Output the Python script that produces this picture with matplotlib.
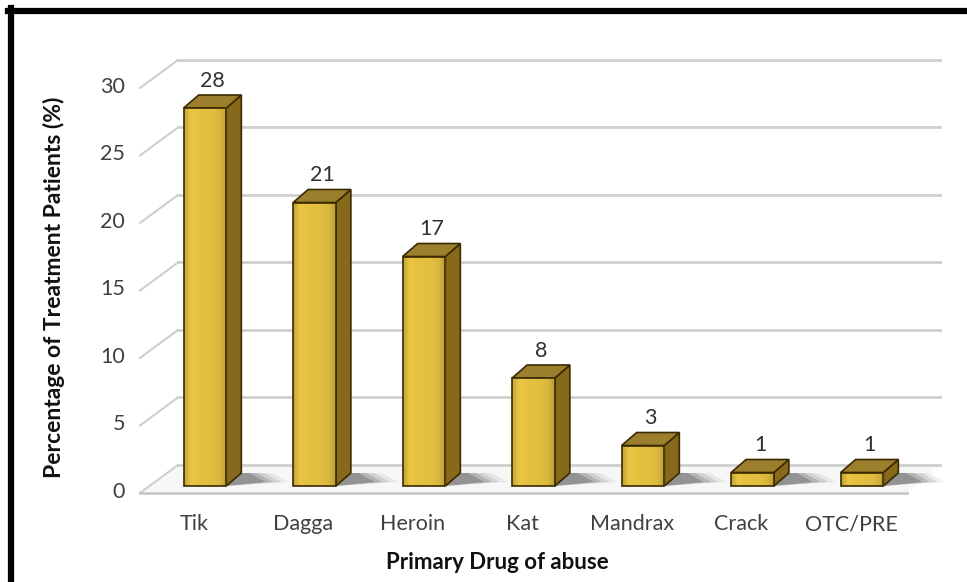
# 3-D style bar chart: primary drug of abuse among treatment patients

import numpy as np
import matplotlib
matplotlib.use("Agg")
import matplotlib.pyplot as plt
from matplotlib.patches import Polygon, Rectangle
from matplotlib.lines import Line2D

drugs = ["Tik", "Dagga", "Heroin", "Kat", "Mandrax", "Crack", "OTC/PRE"]
percent = [28, 21, 17, 8, 3, 1, 1]
y_ticks = [0, 5, 10, 15, 20, 25, 30]

plt.rcParams['font.family'] = ['Lato', 'DejaVu Sans']

fig = plt.figure(figsize=(9.67, 5.82), dpi=100)
ax = fig.add_axes([0, 0, 1, 1])
# one category slot = 109.5 px, one percent = 13.5 px
ax.set_xlim(-1.872, 6.959)
ax.set_ylim(-7.111, 36.0)
ax.axis("off")

w = 0.39                     # bar width
ddx, ddy = 0.137, 0.963      # bar depth
bx, by = 0.26, 1.556         # back wall offset
fx, fy = -0.087, -0.519      # floor front offset
wall_left, wall_right = -0.247, 6.71
floor_left, floor_right = -0.594, 6.41

# floor
floor = Polygon([(floor_left, fy), (floor_right, fy), (wall_right, by), (wall_left, by)],
                closed=True, facecolor="#f7f7f7", edgecolor="none", zorder=1)
ax.add_patch(floor)
ax.plot([floor_left, floor_right], [fy, fy], color="#c8c8c8", lw=2, zorder=1.5)

# back wall gridlines and side ticks
for t in y_ticks:
    ax.plot([wall_left, wall_right], [t + by, t + by], color="#cfcfcf", lw=2, zorder=1.2)
    ax.plot([floor_left, wall_left], [t + fy, t + by], color="#cfcfcf", lw=1.5, zorder=1.2)
    ax.text(-0.73, t + fy + 0.1, str(t), ha="right", va="center",
            fontsize=15.5, color="#404040")

# gradient for the front faces
grad = np.array([0.82, 1.0, 0.97, 0.96, 0.95, 0.95, 0.94, 0.93, 0.9, 0.8])
front_rgb = np.array([240, 202, 68]) / 255.0
img = np.clip(grad[None, :, None] * front_rgb[None, None, :], 0, 1)

for i, v in enumerate(percent):
    x0, x1 = i - w / 2, i + w / 2
    # shadow on floor
    for k, a in enumerate([0.22, 0.16, 0.11, 0.07]):
        s = 0.07 * (k + 1)
        sh = Polygon([(x1, 0.0), (x1 + ddx + s + 0.15, 0.3), (x1 + ddx + s, ddy),
                      (x1 + ddx, ddy)], closed=True, facecolor="#202020",
                     edgecolor="none", alpha=a, zorder=2)
        ax.add_patch(sh)
    side = Polygon([(x1, 0), (x1 + ddx, ddy), (x1 + ddx, v + ddy), (x1, v)], closed=True,
                   facecolor="#87691c", edgecolor="#3a2a00", lw=1.2, zorder=3)
    top = Polygon([(x0, v), (x0 + ddx, v + ddy), (x1 + ddx, v + ddy), (x1, v)], closed=True,
                  facecolor="#9c7f2c", edgecolor="#3a2a00", lw=1.2, zorder=3)
    ax.add_patch(side)
    ax.add_patch(top)
    front = Rectangle((x0, 0), w, v, facecolor="none", edgecolor="#3a2a00", lw=1.2, zorder=5)
    ax.add_patch(front)
    im = ax.imshow(img, extent=(x0, x1, 0, v), aspect="auto", zorder=4,
                   interpolation="bicubic")
    im.set_clip_path(front)
    ax.text(i + ddx / 2, v + ddy + 0.3, str(v), ha="center", va="bottom",
            fontsize=15.5, color="#303030")
    ax.text(i - 0.1, -2.85, drugs[i], ha="center", va="center",
            fontsize=15.5, color="#404040")

ax.set_xlim(-1.872, 6.959)
ax.set_ylim(-7.111, 36.0)

ax.text(2.67, -5.65, "Primary Drug of abuse", ha="center", va="center",
        fontsize=16, fontweight="bold", color="#111111")
ax.text(-1.38, 14.7, "Percentage of Treatment Patients (%)", ha="center", va="center",
        rotation=90, fontsize=16.5, fontweight="bold", color="#111111")

# black frame (top and left)
fig.add_artist(Line2D([8 / 967, 1], [1 - 11 / 582, 1 - 11 / 582], color="black", lw=4.5,
                      transform=fig.transFigure))
fig.add_artist(Line2D([11 / 967, 11 / 967], [0, 1 - 8 / 582], color="black", lw=4.5,
                      transform=fig.transFigure))

fig.savefig("out.png", dpi=100)
